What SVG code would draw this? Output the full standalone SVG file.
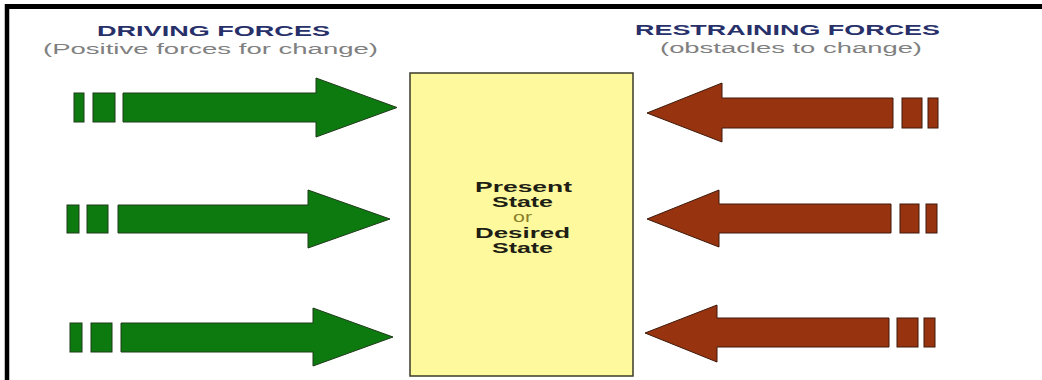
<svg xmlns="http://www.w3.org/2000/svg" width="1042" height="380" viewBox="0 0 1042 380">
<style>
.head{font-family:"Liberation Sans",Arial,sans-serif;font-weight:bold;font-size:14px;fill:#28306a}
.sub{font-family:"Liberation Sans",Arial,sans-serif;font-size:14px;fill:#808080}
.st{font-family:"Liberation Sans",Arial,sans-serif;font-weight:bold;font-size:15px;fill:#1e1e14}
.or{font-family:"Liberation Sans",Arial,sans-serif;font-size:14px;fill:#8a7f2a}
.drive{fill:#0d7a10;stroke:#1f3a1a;stroke-width:1}
.restrain{fill:#983310;stroke:#3e1a0a;stroke-width:1}
</style>
<rect x="0" y="0" width="1042" height="380" fill="#ffffff"/>
<g id="frame">
<line x1="5" y1="6.5" x2="1042" y2="6.5" stroke="#000" stroke-width="5"/>
<line x1="7" y1="4" x2="7" y2="380" stroke="#000" stroke-width="4.5"/>
</g>
<g id="driving-title">
<text class="head" x="97" y="36" textLength="233" lengthAdjust="spacingAndGlyphs">DRIVING FORCES</text>
<text class="sub" x="43" y="54" textLength="335" lengthAdjust="spacingAndGlyphs">(Positive forces for change)</text>
</g>
<g id="restraining-title">
<text class="head" x="635" y="35" textLength="305" lengthAdjust="spacingAndGlyphs">RESTRAINING FORCES</text>
<text class="sub" x="660" y="53" textLength="262" lengthAdjust="spacingAndGlyphs">(obstacles to change)</text>
</g>
<g id="state-box">
<rect x="410" y="73" width="223" height="303" fill="#fdf99c" stroke="#3a3a2a" stroke-width="1.5"/>
<text class="st" x="475" y="192" textLength="97" lengthAdjust="spacingAndGlyphs">Present</text>
<text class="st" x="492" y="207" textLength="61" lengthAdjust="spacingAndGlyphs">State</text>
<text class="or" x="513" y="222" textLength="19" lengthAdjust="spacingAndGlyphs">or</text>
<text class="st" x="475" y="238" textLength="95" lengthAdjust="spacingAndGlyphs">Desired</text>
<text class="st" x="492" y="253" textLength="61" lengthAdjust="spacingAndGlyphs">State</text>
</g>
<g id="connectors">
<g id="drive-1" class="drive">
<rect x="74" y="93" width="10" height="29"/>
<rect x="93" y="93" width="22" height="29"/>
<polygon points="123,93 316,93 316,78 397,107.5 316,137 316,122 123,122"/>
</g>
<g id="drive-2" class="drive">
<rect x="67" y="205" width="12" height="28"/>
<rect x="87" y="205" width="21" height="28"/>
<polygon points="118,205 308,205 308,190 390,219 308,248 308,233 118,233"/>
</g>
<g id="drive-3" class="drive">
<rect x="70" y="323" width="12" height="29"/>
<rect x="91" y="323" width="21" height="29"/>
<polygon points="121,323 313,323 313,308 393,337 313,366 313,352 121,352"/>
</g>
<g id="restrain-1" class="restrain">
<rect x="928" y="98" width="10" height="30"/>
<rect x="902" y="98" width="20" height="30"/>
<polygon points="893,98 722,98 722,83 647,113 722,142 722,128 893,128"/>
</g>
<g id="restrain-2" class="restrain">
<rect x="926" y="204" width="11" height="29"/>
<rect x="900" y="204" width="19" height="29"/>
<polygon points="891,204 719,204 719,190 647,219 719,247 719,233 891,233"/>
</g>
<g id="restrain-3" class="restrain">
<rect x="924" y="318" width="11" height="29"/>
<rect x="897" y="318" width="21" height="29"/>
<polygon points="889,318 717,318 717,305 645,333 717,362 717,347 889,347"/>
</g>
</g>
</svg>
